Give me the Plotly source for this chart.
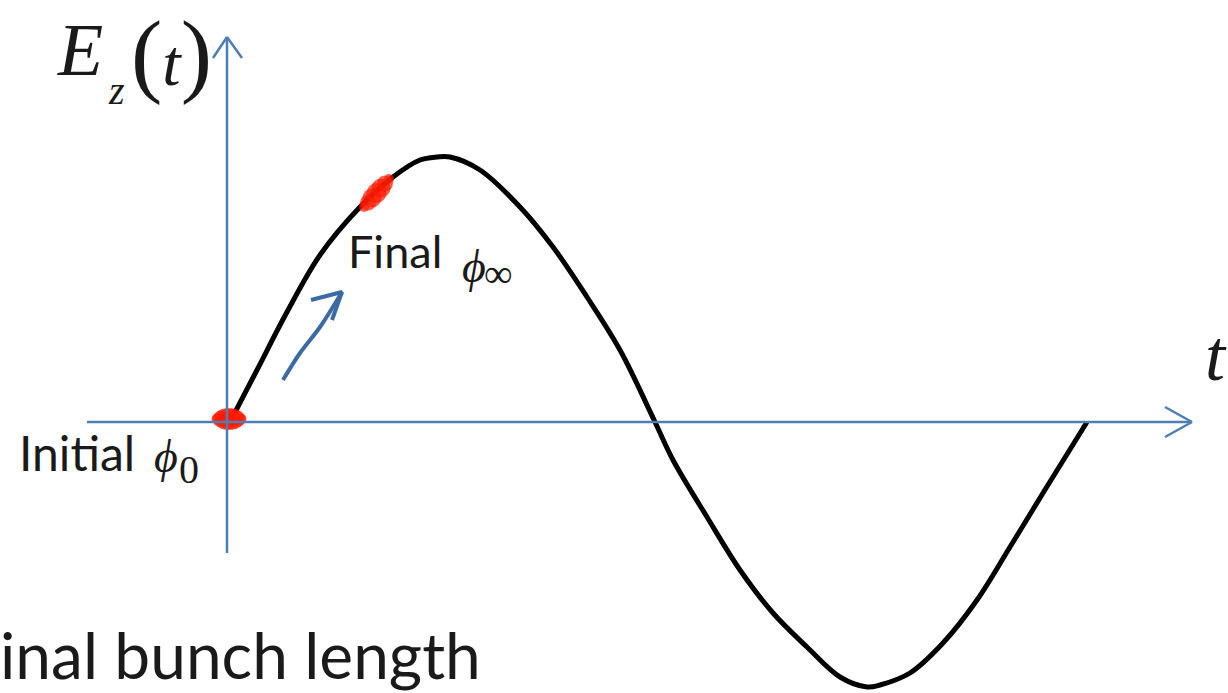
import plotly.graph_objects as go

# ---- data (t, E); origin at the axes crossing ----
curve_t = [3, 30, 60, 93, 133, 166, 193, 210, 223, 253, 293, 326, 360, 393, 428,
           446, 480, 513, 546, 580, 613, 640, 653, 683, 716, 750, 783, 816, 860]
curve_E = [0, 52, 110, 167, 215, 245, 262, 265, 265, 252, 215, 175, 125, 72, 0,
           -38, -95, -148, -191, -225, -255, -265, -263, -251, -221, -178, -125, -71, 0]

# initial bunch (red blob at origin)
init_t = [-10, -6, -2, 2, 6, 10, 14]
init_E = [3, 3, 3, 3, 3, 3, 3]
# final bunch (red blob on the rising slope)
final_t = [137, 141, 145, 149.5, 154, 158, 162]
final_E = [215, 219.5, 224, 229, 234, 238.5, 243]

# curved blue arrow (phase motion)
arrow_t = [56, 73, 93, 115]
arrow_E = [42, 69, 95, 130]
arrowhead_t = [84, 115, 105]
arrowhead_E = [122, 130, 102]

AXIS_BLUE = "#4f7db6"
ARROW_BLUE = "#3c6ba3"
RED = "#ff1a00"
INIT_SIZES = [11, 17, 21, 22, 21, 17, 11]
FINAL_SIZES = [10, 16, 19, 20, 19, 16, 10]
W, H = 1228, 693
OX, OY = 227, 422  # pixel position of origin


def X(px):
    return px - OX


def Y(py):
    return OY - py


fig = go.Figure()

fig.add_trace(go.Scatter(x=curve_t, y=curve_E, mode="lines",
                         line=dict(color="black", width=5, shape="spline", smoothing=1.0),
                         hoverinfo="skip", showlegend=False))
fig.add_trace(go.Scatter(x=arrow_t, y=arrow_E, mode="lines",
                         line=dict(color=ARROW_BLUE, width=4, shape="spline"),
                         hoverinfo="skip", showlegend=False))
fig.add_trace(go.Scatter(x=arrowhead_t, y=arrowhead_E, mode="lines",
                         line=dict(color=ARROW_BLUE, width=4),
                         hoverinfo="skip", showlegend=False))
fig.add_trace(go.Scatter(x=init_t, y=init_E, mode="markers",
                         marker=dict(color=RED, size=INIT_SIZES, line=dict(width=0)),
                         hoverinfo="skip", showlegend=False))
fig.add_trace(go.Scatter(x=final_t, y=final_E, mode="markers",
                         marker=dict(color=RED, size=FINAL_SIZES, line=dict(width=0)),
                         hoverinfo="skip", showlegend=False))

# axes drawn as shapes (horizontal t-axis, vertical E-axis, open chevron arrowheads)
axis_line = dict(color=AXIS_BLUE, width=2.5)
shapes = [
    dict(type="line", x0=X(87), y0=0, x1=X(1192), y1=0, line=axis_line),
    dict(type="line", x0=X(1165), y0=15, x1=X(1192), y1=0, line=axis_line),
    dict(type="line", x0=X(1165), y0=-15, x1=X(1192), y1=0, line=axis_line),
    dict(type="line", x0=0, y0=Y(553), x1=0, y1=Y(37), line=axis_line),
    dict(type="line", x0=-14, y0=Y(58), x1=0, y1=Y(37), line=axis_line),
    dict(type="line", x0=15, y0=Y(58), x1=0, y1=Y(37), line=axis_line),
]

SERIF = "Liberation Serif, DejaVu Serif, serif"
SANS = "Lato"
TXT = "#1a1a1a"


def note(text, px, py, size, family, xanchor="center", yanchor="middle", xshift=0):
    return dict(text=text, x=X(px), y=Y(py), xref="x", yref="y", showarrow=False,
                xanchor=xanchor, yanchor=yanchor, xshift=xshift,
                font=dict(family=family, size=size, color=TXT))


PAREN = '<span style="font-size:94px">{}</span>'

annotations = [
    note("<i>E</i>", 80, 50, 74, SERIF),
    note("<i>z</i>", 116, 90, 40, SERIF),
    note(PAREN.format("(") + "<i>t</i>" + PAREN.format(")"), 171, 53, 66, SERIF),
    note("<i>t</i>", 1216, 356, 72, SERIF),
    note("Final", 395, 251, 45, SANS),
    note("<i>ϕ</i>", 474, 266, 46, SERIF),
    note("∞", 498, 273, 40, SERIF),
    note("Initial", 77, 452, 48, SANS),
    note("<i>ϕ</i>", 166, 456, 46, SERIF),
    note("0", 189, 469, 40, SERIF),
    note("inal bunch length", 0, 654, 64, SANS, xanchor="left", xshift=-2),
]

fig.update_layout(
    width=W, height=H,
    margin=dict(l=0, r=0, t=0, b=0),
    paper_bgcolor="white", plot_bgcolor="white",
    xaxis=dict(range=[X(0), X(W)], visible=False, fixedrange=True),
    yaxis=dict(range=[Y(H), Y(0)], visible=False, fixedrange=True),
    shapes=shapes,
    annotations=annotations,
    showlegend=False,
)

fig.write_html("out.html", config={"displayModeBar": False},
               post_script="document.body.style.margin='0';document.body.style.overflow='hidden';")
